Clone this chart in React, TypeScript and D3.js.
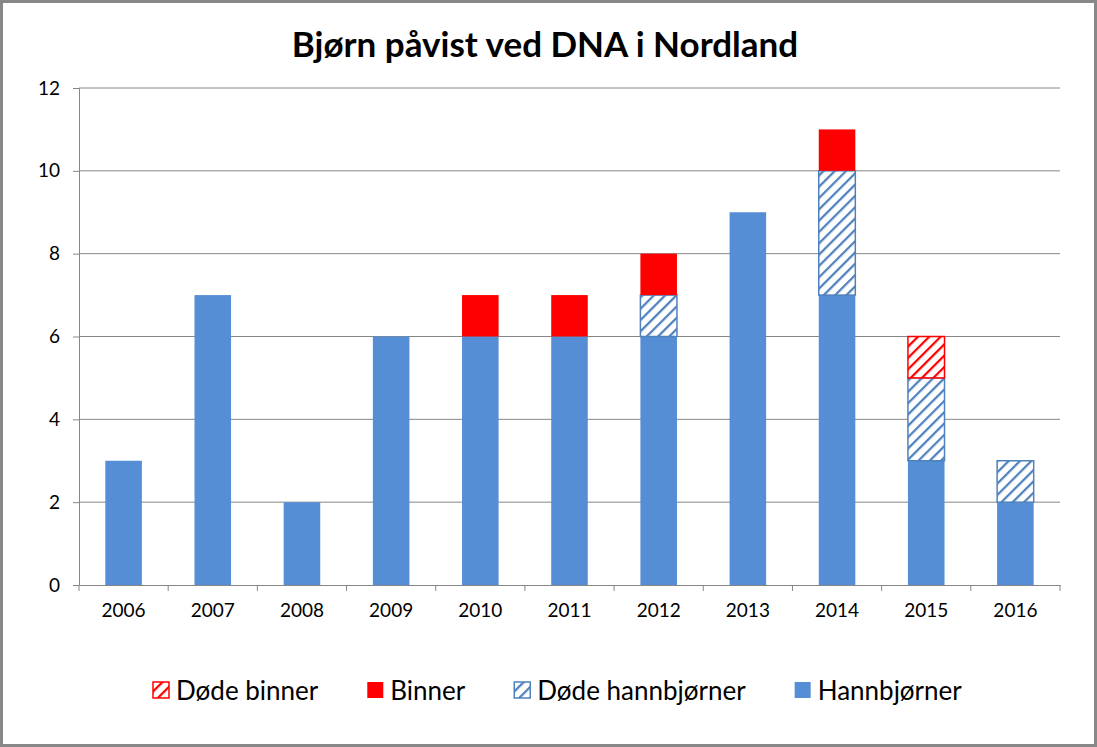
import { useEffect, useRef } from 'react'
import * as d3 from 'd3'

const years = ['2006', '2007', '2008', '2009', '2010', '2011', '2012', '2013', '2014', '2015', '2016']
const hannbjorner = [3, 7, 2, 6, 6, 6, 6, 9, 7, 3, 2]
const dodeHannbjorner = [0, 0, 0, 0, 0, 0, 1, 0, 3, 2, 1]
const binner = [0, 0, 0, 0, 1, 1, 1, 0, 1, 0, 0]
const dodeBinner = [0, 0, 0, 0, 0, 0, 0, 0, 0, 1, 0]
const yTicks = [0, 2, 4, 6, 8, 10, 12]

const seriesDefs = [
  { key: 'hann', label: 'Hannbjørner', values: hannbjorner, color: '#558ED5', hatch: false },
  { key: 'dodeHann', label: 'Døde hannbjørner', values: dodeHannbjorner, color: '#4F81BD', hatch: true },
  { key: 'binner', label: 'Binner', values: binner, color: '#FF0000', hatch: false },
  { key: 'dodeBinner', label: 'Døde binner', values: dodeBinner, color: '#FF0000', hatch: true },
]

const FONT = 'Lato, "Open Sans", sans-serif'

export default function App() {
  const svgRef = useRef<SVGSVGElement>(null)

  useEffect(() => {
    if (!svgRef.current) return
    const width = 1097
    const height = 747
    const margin = { top: 88, right: 37, bottom: 162, left: 79 }
    const innerW = width - margin.left - margin.right
    const innerH = height - margin.top - margin.bottom

    const svg = d3.select(svgRef.current)
    svg.selectAll('*').remove()
    svg.attr('width', width).attr('height', height)

    svg.append('rect')
      .attr('x', 1.5).attr('y', 1.5)
      .attr('width', width - 3).attr('height', height - 3)
      .attr('fill', '#fff').attr('stroke', '#878787').attr('stroke-width', 3)

    // Hatch patterns
    const defs = svg.append('defs')
    seriesDefs.filter(s => s.hatch).forEach(s => {
      const p = defs.append('pattern')
        .attr('id', `hatch-${s.key}`)
        .attr('patternUnits', 'userSpaceOnUse')
        .attr('width', 8).attr('height', 8)
        .attr('patternTransform', 'rotate(45)')
      p.append('rect').attr('width', 8).attr('height', 8).attr('fill', '#fff')
      p.append('line').attr('x1', 0).attr('x2', 0).attr('y1', 0).attr('y2', 8)
        .attr('stroke', s.color).attr('stroke-width', 4.5)
    })

    svg.append('text')
      .attr('x', 545).attr('y', 57)
      .attr('text-anchor', 'middle')
      .attr('font-family', FONT).attr('font-weight', 'bold').attr('font-size', '35px')
      .attr('fill', '#000')
      .text('Bjørn påvist ved DNA i Nordland')

    const g = svg.append('g').attr('transform', `translate(${margin.left},${margin.top})`)

    const x = d3.scaleBand<string>().domain(years).range([0, innerW]).paddingInner(0.59).paddingOuter(0.295)
    const xOuter = d3.scaleBand<string>().domain(years).range([0, innerW])
    const y = d3.scaleLinear().domain([0, 12]).range([innerH, 0])

    // Grid
    g.append('g')
      .selectAll('line')
      .data(yTicks.filter(t => t > 0))
      .enter().append('line')
      .attr('x1', 0).attr('x2', innerW)
      .attr('y1', d => y(d)).attr('y2', d => y(d))
      .attr('stroke', '#868686').attr('stroke-width', 1)

    // Stacked bars
    const rows = years.map((yr, i) => {
      const r: Record<string, number | string> = { year: yr }
      seriesDefs.forEach(s => { r[s.key] = s.values[i] })
      return r
    })
    const stack = d3.stack<Record<string, number | string>>().keys(seriesDefs.map(s => s.key))
    const stacked = stack(rows as any)

    stacked.forEach((layer, li) => {
      const s = seriesDefs[li]
      g.append('g')
        .selectAll('rect')
        .data(layer.filter(d => d[1] - d[0] > 0))
        .enter().append('rect')
        .attr('x', d => x(d.data.year as string)!)
        .attr('width', x.bandwidth())
        .attr('y', d => y(d[1]))
        .attr('height', d => y(d[0]) - y(d[1]))
        .attr('fill', s.hatch ? `url(#hatch-${s.key})` : s.color)
        .attr('stroke', s.hatch ? s.color : 'none')
        .attr('stroke-width', s.hatch ? 1.5 : 0)
    })

    // Axes
    g.append('g')
      .attr('transform', `translate(0,${innerH})`)
      .call(d3.axisBottom(xOuter).tickSize(0).tickPadding(19))
      .call(ax => ax.select('.domain').attr('stroke', '#868686'))
      .call(ax => ax.selectAll('.tick text').attr('fill', '#000').attr('font-size', '19px').attr('font-family', FONT))

    // category separators
    g.append('g')
      .selectAll('line')
      .data([...years.map(yr => xOuter(yr)!), innerW])
      .enter().append('line')
      .attr('x1', d => d).attr('x2', d => d)
      .attr('y1', innerH).attr('y2', innerH + 6)
      .attr('stroke', '#868686')

    g.append('g')
      .call(d3.axisLeft(y).tickValues(yTicks).tickSize(6).tickPadding(13))
      .call(ax => ax.select('.domain').attr('stroke', '#868686'))
      .call(ax => ax.selectAll('.tick line').attr('stroke', '#868686'))
      .call(ax => ax.selectAll('.tick text').attr('fill', '#000').attr('font-size', '19px').attr('font-family', FONT))

    // Legend
    const legendItems = [...seriesDefs].reverse()
    const legend = svg.append('g').attr('transform', 'translate(153, 690)')
    let offset = 0
    legendItems.forEach(item => {
      const row = legend.append('g').attr('transform', `translate(${offset},0)`)
      row.append('rect')
        .attr('x', 0).attr('y', -8).attr('width', 16).attr('height', 16)
        .attr('fill', item.hatch ? `url(#hatch-${item.key})` : item.color)
        .attr('stroke', item.hatch ? item.color : 'none')
        .attr('stroke-width', item.hatch ? 1.5 : 0)
      const t = row.append('text')
        .attr('x', 23).attr('y', 9.5)
        .attr('font-family', FONT).attr('font-size', '26px').attr('fill', '#000')
        .text(item.label)
      const w = (t.node() as SVGTextElement).getComputedTextLength()
      offset += 23 + w + 49
    })
  }, [])

  return (
    <div style={{ position: 'absolute', left: 0, top: 0 }}>
      <svg ref={svgRef} style={{ display: 'block' }} />
    </div>
  )
}
